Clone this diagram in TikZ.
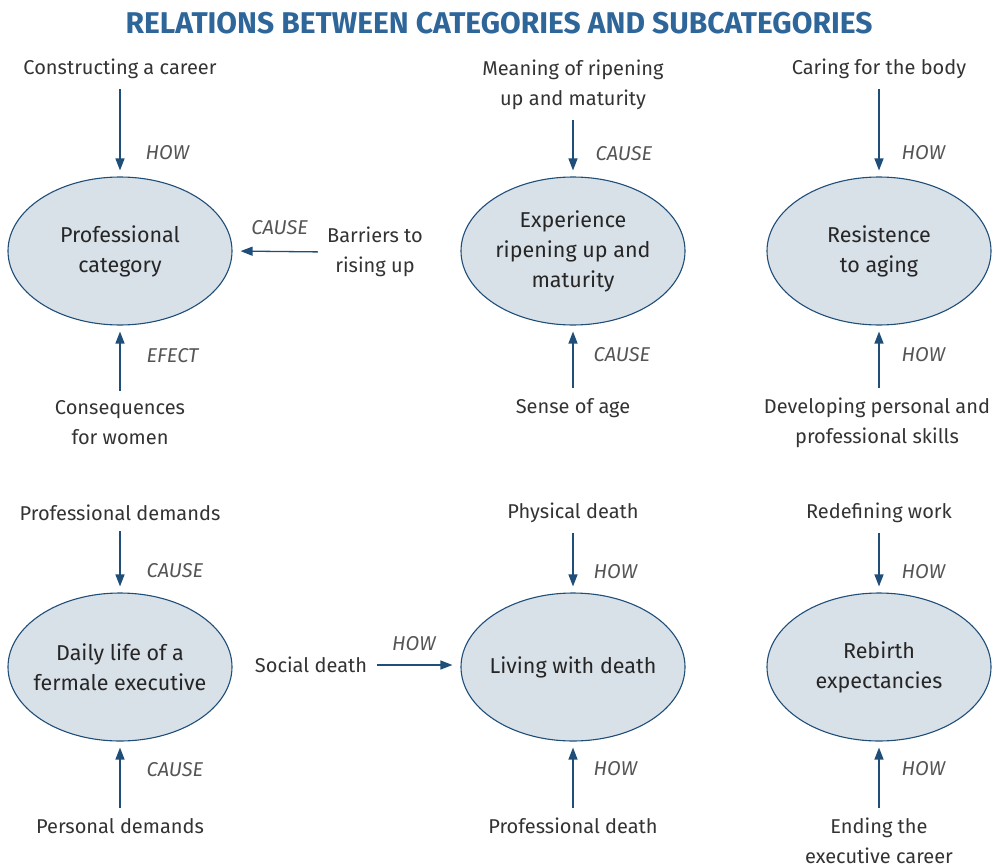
\documentclass[tikz,border=0pt]{standalone}
\usepackage{fontspec}
\setmainfont{Fira Sans}
\usepackage{tikz}
\usetikzlibrary{positioning, arrows.meta, shapes.geometric}
\definecolor{navy}{HTML}{1F4E79}
\definecolor{catfill}{HTML}{D8E0E8}
\definecolor{ink}{HTML}{333333}
\definecolor{grey}{HTML}{555555}
\definecolor{titleblue}{HTML}{2E6699}

\begin{document}
\begin{tikzpicture}[x=1pt, y=-1pt,
  font=\fontsize{20}{30}\selectfont,
  cat/.style={ellipse, draw=navy, line width=1.1pt, fill=catfill, minimum width=224pt,
    minimum height=148pt, inner xsep=-14pt, inner ysep=0pt, align=center, text=black!85,
    font=\fontsize{21.5}{30}\selectfont},
  sub/.style={align=center, text=ink, inner sep=0pt},
  rel/.style={font=\fontsize{20}{24}\selectfont\itshape, text=grey, inner sep=0pt},
  link/.style={navy, line width=1.3pt, -{Triangle[length=12pt, width=9pt]}}]
\useasboundingbox (0,0) rectangle (998,867);

% title
\node[font=\fontsize{30}{36}\selectfont\bfseries, text=titleblue] (ttl) at (499,23)
  {RELATIONS BETWEEN CATEGORIES AND SUBCATEGORIES};

% categories
\node[cat] (prof) at (120,251) {Professional\\category};
\node[cat] (exp)  at (573,251) {Experience\\ripening up and\\maturity};
\node[cat] (res)  at (879,251) {Resistence\\to aging};
\node[cat] (daily) at (120,667) {Daily life of a\\fermale executive};
\node[cat] (live)  at (573,667) {Living with death};
\node[cat] (reb)   at (879,667) {Rebirth\\expectancies};

% subcategories
\node[sub] (career) at (120,69) {Constructing a career};
\node[sub] (mean)   at (573,85) {Meaning of ripening\\up and maturity};
\node[sub] (body)   at (879,69) {Caring for the body};
\node[sub] (barr)   at (375,252) {Barriers to\\rising up};
\node[sub] (women)  at (120,423) {Consequences\\for women};
\node[sub] (age)    at (573,408) {Sense of age};
\node[sub] (skills) at (877,423) {Developing personal and\\professional skills};
\node[sub] (pdem)   at (120,513) {Professional demands};
\node[sub] (phys)   at (573,513) {Physical death};
\node[sub] (redef)  at (879,513) {Redefining work};
\node[sub] (social) at (311,665) {Social death};
\node[sub] (perdem) at (120,826) {Personal demands};
\node[sub] (pdeath) at (573,826) {Professional death};
\node[sub] (ending) at (879,841) {Ending the\\executive career};

% relations, row one
\draw[link, shorten <=10pt, shorten >=6pt] (career) -- (prof)
  node[rel, pos=0.76, anchor=west, xshift=25pt] {HOW};
\draw[link, shorten <=10pt, shorten >=6pt] (mean) -- (exp)
  node[rel, pos=0.66, anchor=west, xshift=22pt] {CAUSE};
\draw[link, shorten <=10pt, shorten >=6pt] (body) -- (res)
  node[rel, pos=0.76, anchor=west, xshift=22pt] {HOW};
\draw[link, shorten <=9pt, shorten >=8pt] (barr.west) -- (prof.east)
  node[rel, midway, above=16pt] {CAUSE};
\draw[link, shorten <=10pt, shorten >=6pt] (women) -- (prof)
  node[rel, pos=0.6, anchor=west, xshift=26pt] {EFECT};
\draw[link, shorten <=10pt, shorten >=6pt] (age) -- (exp)
  node[rel, pos=0.6, anchor=west, xshift=20pt] {CAUSE};
\draw[link, shorten <=10pt, shorten >=6pt] (skills.north -| res) -- (res)
  node[rel, pos=0.6, anchor=west, xshift=22pt] {HOW};

% relations, row two
\draw[link, shorten <=10pt, shorten >=6pt] (pdem) -- (daily)
  node[rel, pos=0.7, anchor=west, xshift=26pt] {CAUSE};
\draw[link, shorten <=10pt, shorten >=6pt] (phys) -- (live)
  node[rel, pos=0.7, anchor=west, xshift=20pt] {HOW};
\draw[link, shorten <=10pt, shorten >=6pt] (redef) -- (reb)
  node[rel, pos=0.7, anchor=west, xshift=22pt] {HOW};
\draw[link, shorten <=10pt, shorten >=8pt] (social.east) -- (live.west |- social.east)
  node[rel, midway, above=14pt] {HOW};
\draw[link, shorten <=10pt, shorten >=6pt] (perdem) -- (daily)
  node[rel, pos=0.64, anchor=west, xshift=26pt] {CAUSE};
\draw[link, shorten <=10pt, shorten >=6pt] (pdeath) -- (live)
  node[rel, pos=0.64, anchor=west, xshift=20pt] {HOW};
\draw[link, shorten <=10pt, shorten >=6pt] (ending) -- (reb)
  node[rel, pos=0.64, anchor=west, xshift=22pt] {HOW};
\end{tikzpicture}
\end{document}
